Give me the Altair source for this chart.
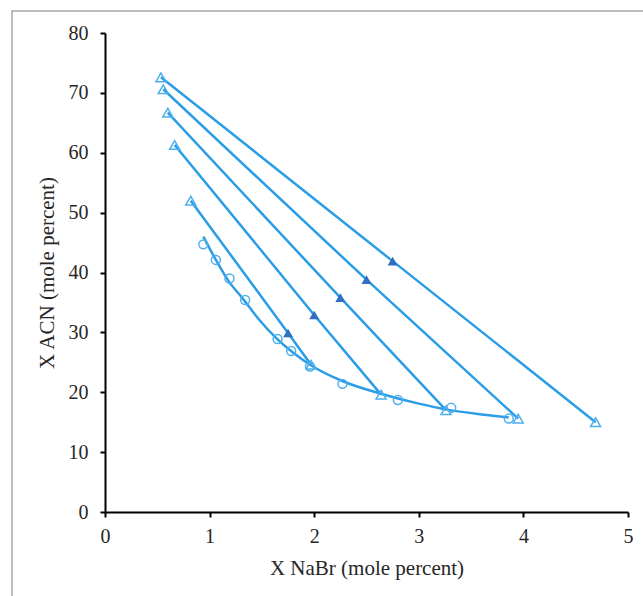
import altair as alt
import pandas as pd

# Binodal experimental points (open circles)
bin_x = [0.94, 1.06, 1.19, 1.34, 1.65, 1.78, 1.96, 2.27, 2.80, 3.31, 3.86]
bin_y = [44.7, 42.1, 39.0, 35.4, 28.9, 26.9, 24.3, 21.4, 18.7, 17.4, 15.6]

# Fitted binodal curve
curve_x = [0.94, 1.07, 1.18, 1.31, 1.47, 1.64, 1.80, 1.96, 2.28, 2.63, 3.00, 3.27, 3.60, 3.86]
curve_y = [46.0, 41.8, 38.6, 35.8, 32.2, 29.0, 26.6, 24.6, 21.8, 19.8, 18.1, 17.1, 16.3, 15.8]

# Tie lines: top phase, feed, bottom phase
left_x = [0.535, 0.557, 0.60, 0.666, 0.82]
left_y = [72.6, 70.6, 66.7, 61.3, 52.0]
feed_x = [2.75, 2.50, 2.25, 2.00, 1.75]
feed_y = [41.9, 38.8, 35.8, 32.9, 29.9]
right_x = [4.69, 3.95, 3.26, 2.64, 1.97]
right_y = [15.0, 15.6, 17.0, 19.6, 24.6]

x_ticks = [0, 1, 2, 3, 4, 5]
y_ticks = [0, 10, 20, 30, 40, 50, 60, 70, 80]

LINE = "#2A9DE6"
OPEN = "#4DB0EE"
FILL = "#2F6EC0"
FONT = "Liberation Serif"

bin_df = pd.DataFrame({"x": bin_x, "y": bin_y})
curve_df = pd.DataFrame({"x": curve_x, "y": curve_y, "o": list(range(len(curve_x)))})

tie_rows = []
for i in range(len(left_x)):
    tie_rows.append({"tie": i, "o": 0, "x": left_x[i], "y": left_y[i]})
    tie_rows.append({"tie": i, "o": 1, "x": feed_x[i], "y": feed_y[i]})
    tie_rows.append({"tie": i, "o": 2, "x": right_x[i], "y": right_y[i]})
tie_df = pd.DataFrame(tie_rows)
ends_df = pd.DataFrame({"x": left_x + right_x, "y": left_y + right_y})
feed_df = pd.DataFrame({"x": feed_x, "y": feed_y})

xs = alt.Scale(domain=[0, 5], nice=False, zero=False)
ys = alt.Scale(domain=[0, 80], nice=False, zero=False)

X = alt.X("x:Q", scale=xs, title="X NaBr (mole percent)",
          axis=alt.Axis(values=x_ticks, labelPadding=9, labelFlush=False,
                        titleY=56, titleBaseline="middle"))
Y = alt.Y("y:Q", scale=ys, title="X ACN (mole percent)",
          axis=alt.Axis(values=y_ticks, labelPadding=12, labelFlush=False,
                        titleX=-58, titleBaseline="middle"))

frame = alt.Chart(pd.DataFrame({"a": [0]})).mark_rect(
    fill=None, stroke="#A6A6A6", strokeWidth=1.5
).encode(
    x=alt.value(-93), x2=alt.value(550), y=alt.value(-22), y2=alt.value(575)
)

ties = alt.Chart(tie_df).mark_line(color=LINE, strokeWidth=2.5).encode(
    x=X, y=Y, detail="tie:N", order="o:Q"
)
curve = alt.Chart(curve_df).mark_line(color=LINE, strokeWidth=2.5, interpolate="monotone").encode(
    x=X, y=Y, order="o:Q"
)
circles = alt.Chart(bin_df).mark_point(
    shape="circle", size=80, filled=False, color=OPEN, strokeWidth=1.5, opacity=1
).encode(x=X, y=Y)
ends = alt.Chart(ends_df).mark_point(
    shape="triangle-up", size=100, filled=False, color=OPEN, strokeWidth=1.5, opacity=1
).encode(x=X, y=Y)
feeds = alt.Chart(feed_df).mark_point(
    shape="triangle-up", size=100, filled=True, color=FILL, opacity=1
).encode(x=X, y=Y)

chart = alt.layer(frame, ties, curve, circles, ends, feeds).properties(
    width=523, height=479,
    background="white",
    autosize=alt.AutoSizeParams(type="none"),
    padding={"left": 105, "top": 33, "right": 15, "bottom": 84},
).configure_view(stroke=None).configure_axis(
    grid=False,
    domainColor="black", domainWidth=2,
    tickColor="black", tickWidth=2, tickSize=5,
    labelFont=FONT, labelFontSize=20, labelColor="#262626",
    titleFont=FONT, titleFontSize=21, titleColor="#262626", titleFontWeight="normal",
)

chart.save("out.html", embed_options={"renderer": "svg", "actions": False})
